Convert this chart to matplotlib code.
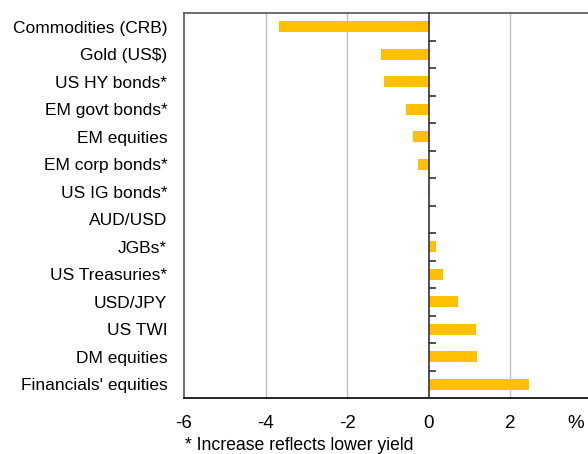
import matplotlib
matplotlib.use("Agg")
import matplotlib.pyplot as plt
import numpy as np

categories = ["Commodities (CRB)", "Gold (US$)", "US HY bonds*", "EM govt bonds*",
              "EM equities", "EM corp bonds*", "US IG bonds*", "AUD/USD", "JGBs*",
              "US Treasuries*", "USD/JPY", "US TWI", "DM equities", "Financials' equities"]
values = [-3.66, -1.17, -1.11, -0.56, -0.40, -0.27, -0.03, 0.0, 0.17, 0.35, 0.72, 1.16, 1.18, 2.45]
xticks = [-6, -4, -2, 0, 2]

plt.rcParams['font.family'] = ['Liberation Sans', 'DejaVu Sans']

W, H = 588, 454
fig = plt.figure(figsize=(W/100, H/100), dpi=100)
ax = fig.add_axes([184/W, 1-398/H, 1-184/W, (398-13)/H])

y = np.arange(len(categories))
ax.barh(y, values, height=0.4, color='#FFC000', zorder=3)
ax.set_ylim(len(categories)-0.5, -0.5)
ax.set_xlim(-6, 3.9)

ax.spines['left'].set_color('#555555')
ax.spines['left'].set_linewidth(1.2)
ax.spines['top'].set_color('#555555')
ax.spines['top'].set_linewidth(1.2)
ax.spines['bottom'].set_color('black')
ax.spines['bottom'].set_linewidth(1.2)
ax.spines['right'].set_position(('data', 0))
ax.spines['right'].set_color('#333333')
ax.spines['right'].set_linewidth(1.2)
ax.spines['right'].set_zorder(4)

ax.set_yticks(y)
ax.set_yticklabels(categories)
ax.tick_params(axis='y', which='major', length=0, pad=12, labelsize=12.5)
ax.set_xticks(xticks)
ax.set_xticklabels([str(v) for v in xticks])
ax.tick_params(axis='x', length=0, pad=12, labelsize=13.5)
ax.yaxis.set_minor_locator(matplotlib.ticker.FixedLocator(y[:-1] + 0.5))
ax.tick_params(axis='y', which='minor', right=True, left=False, direction='out',
               length=5, width=1.2, color='#333333')
for v in xticks:
    if v != 0 and v != -6:
        ax.axvline(v, color='#BFBFBF', lw=1, zorder=1)

fig.text(576/W, 1-428/H, '%', ha='center', va='baseline', fontsize=13.5)
fig.text(185/W, 1-450/H, '* Increase reflects lower yield', ha='left', va='baseline', fontsize=12.7)

fig.savefig('out.png', dpi=100)
